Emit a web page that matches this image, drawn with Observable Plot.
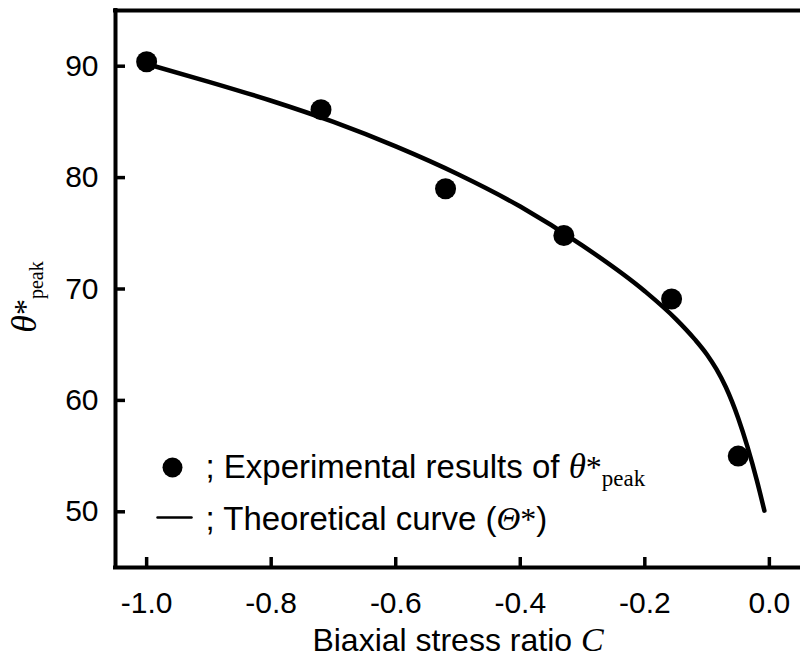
<!DOCTYPE html>
<html>
<head>
<meta charset="utf-8">
<script src="https://cdn.jsdelivr.net/npm/d3@7"></script>
<script src="https://cdn.jsdelivr.net/npm/@observablehq/plot@0.6"></script>
<style>
  html, body { margin: 0; padding: 0; background: #fff; }
</style>
</head>
<body>
<div id="chart"></div>
<script>
// Experimental results of θ*peak
const expC = [-1.0, -0.72, -0.52, -0.33, -0.157, -0.05];
const expTheta = [90.4, 86.1, 79.0, 74.8, 69.1, 55.0];

// Theoretical curve (Θ*)
const curveC = [-1.0, -0.9, -0.8, -0.7, -0.6, -0.5, -0.4, -0.3, -0.2, -0.15, -0.12, -0.1, -0.085, -0.07, -0.05, -0.035, -0.02, -0.008];
const curveTheta = [90.2, 88.6, 86.9, 85.0, 82.8, 80.3, 77.4, 73.9, 69.8, 67.3, 65.5, 64.1, 62.8, 61.2, 58.4, 55.8, 52.8, 50.1];

const xTicks = [-1.0, -0.8, -0.6, -0.4, -0.2, 0.0];
const yTicks = [50, 60, 70, 80, 90];
const xDomain = [-1.05, 0.05];
const yDomain = [45, 95];

const xLabel = "Biaxial stress ratio C";
const yLabel = "θ*peak";
const legendExp = "; Experimental results of θ*peak";
const legendCurve = "; Theoretical curve (Θ*)";

const expData = expC.map((c, i) => ({c, t: expTheta[i]}));
const curveData = curveC.map((c, i) => ({c, t: curveTheta[i]}));

const SANS = "'Liberation Sans', Arial, Helvetica, sans-serif";
const SERIF = "'Liberation Serif', 'Times New Roman', serif";

const W = 800, H = 662;
const M = {left: 115, right: 0, top: 10, bottom: 95};
const plotW = W - M.left - M.right;
const plotH = H - M.top - M.bottom;
const tickLenX = 10;
const tickLenY = 10;

const lineShape = {draw(context, l) { context.moveTo(0, 0); context.lineTo(0, -l); }};

const svg = Plot.plot({
  width: W,
  height: H,
  marginLeft: M.left,
  marginRight: M.right,
  marginTop: M.top,
  marginBottom: M.bottom,
  x: {domain: xDomain},
  y: {domain: yDomain},
  style: {fontFamily: SANS, background: "white", color: "black", overflow: "visible"},
  marks: [
    // tick labels
    Plot.axisX({ticks: xTicks, tickFormat: d => d.toFixed(1), tickSize: 0, tickPadding: 24, fontSize: 30, label: null, fill: "black"}),
    Plot.axisY({ticks: yTicks, tickFormat: d => String(d), tickSize: 0, tickPadding: 17, fontSize: 30, label: null, fill: "black"}),
    // inward tick marks
    Plot.ruleX(xTicks, {x: d => d, insetTop: plotH - tickLenX, stroke: "black", strokeWidth: 3.5}),
    Plot.ruleY(yTicks, {y: d => d, insetRight: plotW - tickLenY, stroke: "black", strokeWidth: 3.5}),
    // frame (top, bottom, left)
    Plot.ruleY([yDomain[0], yDomain[1]], {y: d => d, stroke: "black", strokeWidth: 4, strokeLinecap: "square"}),
    Plot.ruleX([xDomain[0]], {x: d => d, stroke: "black", strokeWidth: 4, strokeLinecap: "square"}),
    // data
    Plot.line(curveData, {x: "c", y: "t", curve: "monotone-x", stroke: "black", strokeWidth: 4.5}),
    Plot.dot(expData, {x: "c", y: "t", r: 10.5, fill: "black"}),
    // legend inside the plot
    Plot.dot([0], {frameAnchor: "bottom-left", dx: 57, dy: -100, r: 10, fill: "black"}),
    Plot.vector([0], {frameAnchor: "bottom-left", dx: 42, dy: -50, length: 34, rotate: 90, anchor: "start", shape: lineShape, stroke: "black", strokeWidth: 2.5}),
    Plot.text([legendExp], {frameAnchor: "bottom-left", dx: 90, dy: -90, text: d => d, textAnchor: "start", lineAnchor: "bottom", fontSize: 33, fill: "black"}),
    Plot.text([legendCurve], {frameAnchor: "bottom-left", dx: 90, dy: -38, text: d => d, textAnchor: "start", lineAnchor: "bottom", fontSize: 33, fill: "black"}),
    // axis titles
    Plot.text([xLabel], {frameAnchor: "bottom", dx: 0, dy: 83, text: d => d, textAnchor: "middle", lineAnchor: "bottom", fontSize: 32, fill: "black"}),
    Plot.text([yLabel], {frameAnchor: "left", dx: -80, dy: 8, rotate: -90, text: d => d, textAnchor: "middle", lineAnchor: "bottom", fontSize: 32, fill: "black"})
  ]
});

document.getElementById("chart").appendChild(svg);

function rich(content, parts) {
  d3.select(svg).selectAll("text")
    .filter(function() { return this.textContent === content; })
    .each(function() {
      const t = d3.select(this);
      t.text(null);
      parts.forEach(p => {
        const s = t.append("tspan").text(p.t);
        s.attr("font-family", p.f || SANS);
        if (p.s) s.attr("font-size", p.s);
        if (p.i) s.attr("font-style", "italic");
        if (p.dy) s.attr("dy", p.dy);
      });
    });
}

rich(legendExp, [
  {t: "; Experimental results of "},
  {t: "θ", f: SERIF, i: true, s: 35},
  {t: "*", f: SERIF, s: 32},
  {t: "peak", f: SERIF, s: 23, dy: 8}
]);
rich(legendCurve, [
  {t: "; Theoretical curve ("},
  {t: "Θ", f: SERIF, i: true, s: 33},
  {t: "*", f: SERIF, s: 32},
  {t: ")"}
]);
rich(xLabel, [
  {t: "Biaxial stress ratio "},
  {t: "C", f: SERIF, i: true, s: 34}
]);
rich(yLabel, [
  {t: "θ", f: SERIF, i: true, s: 36},
  {t: "*", f: SERIF, s: 32},
  {t: "peak", f: SERIF, s: 20, dy: 7}
]);
</script>
</body>
</html>
